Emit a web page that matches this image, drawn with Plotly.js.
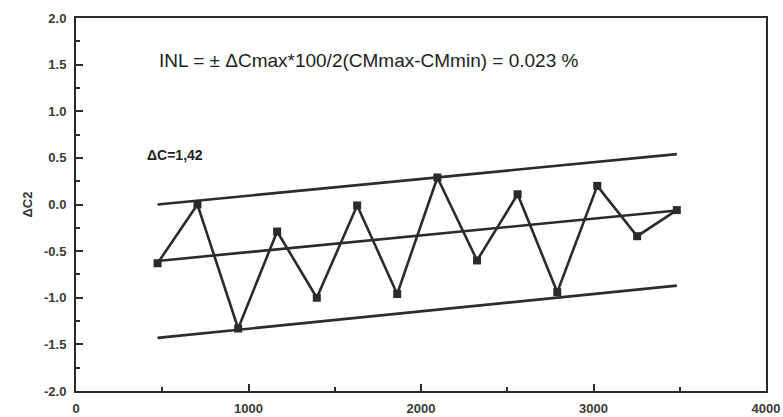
<!DOCTYPE html>
<html>
<head>
<meta charset="utf-8">
<script src="https://cdn.plot.ly/plotly-3.0.1.min.js"></script>
<style>html,body{margin:0;padding:0;background:#fff;}#chart{width:783px;height:417px;}</style>
</head>
<body>
<div id="chart"></div>
<script>
// Measured points
const xValues = [473, 704, 940, 1166, 1396, 1630, 1862, 2095, 2325, 2560, 2790, 3022, 3253, 3483];
const dC2 = [-0.63, 0.0, -1.33, -0.29, -1.0, -0.01, -0.96, 0.29, -0.60, 0.11, -0.94, 0.20, -0.34, -0.06];
// Band lines (start/end)
const bandX = [473, 3483];
const upperY = [0.0, 0.54];
const middleY = [-0.605, -0.065];
const lowerY = [-1.43, -0.87];
// Tick labels
const yTickVals = [-2, -1.5, -1, -0.5, 0, 0.5, 1, 1.5, 2];
const yTickText = ["-2.0", "-1.5", "-1.0", "-0.5", "0.0", "0.5", "1.0", "1.5", "2.0"];
const xTickVals = [0, 1000, 2000, 3000, 4000];
const xTickText = ["0", "1000", "2000", "3000", "4000"];

const ink = '#2b2b2b';
const lineStyle = {color: ink, width: 2.6};

const traces = [
  {x: bandX, y: upperY, mode: 'lines', line: lineStyle, hoverinfo: 'skip'},
  {x: bandX, y: middleY, mode: 'lines', line: lineStyle, hoverinfo: 'skip'},
  {x: bandX, y: lowerY, mode: 'lines', line: lineStyle, hoverinfo: 'skip'},
  {x: xValues, y: dC2, mode: 'lines+markers', line: lineStyle,
   marker: {symbol: 'square', size: 8, color: ink}}
];

const tickFont = {family: 'Liberation Sans, Arial, sans-serif', size: 13, color: '#3a3a3a', weight: 'bold'};

const layout = {
  width: 783, height: 417,
  margin: {l: 76, r: 17, t: 18, b: 26},
  paper_bgcolor: '#fff', plot_bgcolor: '#fff',
  showlegend: false,
  xaxis: {
    range: [0, 4000], tickvals: xTickVals, ticktext: xTickText,
    ticks: 'inside', ticklen: 7, tickwidth: 2, tickcolor: ink,
    minor: {dtick: 500, ticks: 'inside', ticklen: 4, tickwidth: 2, tickcolor: ink},
    showline: true, linecolor: ink, linewidth: 2, mirror: true,
    showgrid: false, zeroline: false, tickfont: tickFont, ticklabelstandoff: 4
  },
  yaxis: {
    range: [-2, 2], tickvals: yTickVals, ticktext: yTickText,
    ticks: 'inside', ticklen: 7, tickwidth: 2, tickcolor: ink,
    minor: {dtick: 0.25, ticks: 'inside', ticklen: 4, tickwidth: 2, tickcolor: ink},
    showline: true, linecolor: ink, linewidth: 2, mirror: true,
    showgrid: false, zeroline: false, tickfont: tickFont, ticklabelstandoff: 5,
    title: {text: 'ΔC2', font: {family: 'Liberation Sans, Arial, sans-serif', size: 13, color: '#333', weight: 'bold'}, standoff: 8}
  },
  annotations: [
    {xref: 'paper', yref: 'paper', x: 0.117, y: 0.887, xanchor: 'left', yanchor: 'middle',
     text: 'INL = ± ΔCmax*100/2(CMmax-CMmin) = 0.023 %', showarrow: false,
     font: {family: 'Liberation Sans, Arial, sans-serif', size: 19, color: '#222'}},
    {xref: 'paper', yref: 'paper', x: 0.1, y: 0.633, xanchor: 'left', yanchor: 'middle',
     text: 'ΔC=1,42', showarrow: false,
     font: {family: 'Liberation Sans, Arial, sans-serif', size: 14, color: '#222', weight: 'bold'}}
  ]
};

Plotly.newPlot('chart', traces, layout, {displayModeBar: false, staticPlot: true});
</script>
</body>
</html>
